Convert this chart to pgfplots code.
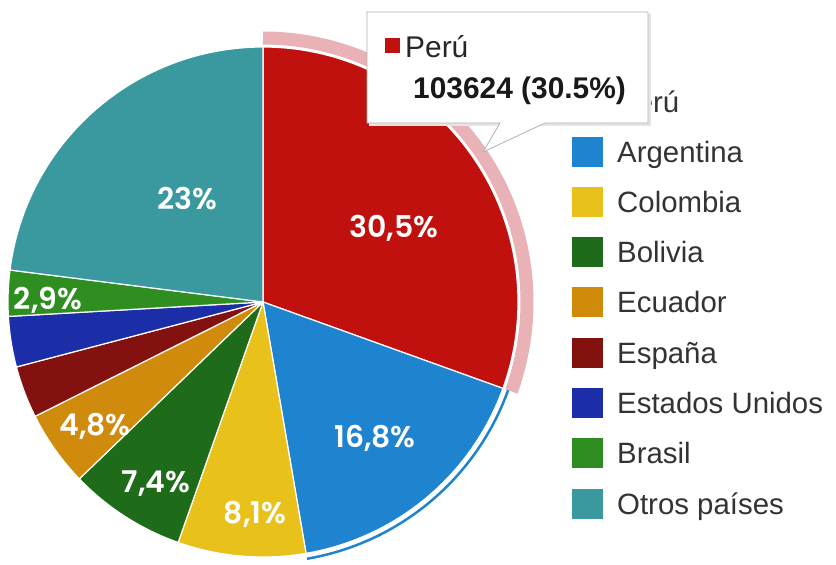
\documentclass[border=0pt]{standalone}
\usepackage{pgfplots}
\pgfplotsset{compat=1.18}
\usepackage{pgfplotstable}
\usepackage{fontspec}
\setmainfont{Liberation Sans}
\newfontfamily\lblfont{Poppins SemiBold}
\definecolor{cPeru}{HTML}{C1110F}
\definecolor{cArg}{HTML}{1E84CF}
\definecolor{cCol}{HTML}{E9C11B}
\definecolor{cBol}{HTML}{1E6C1A}
\definecolor{cEcu}{HTML}{D08A0C}
\definecolor{cEsp}{HTML}{821110}
\definecolor{cUSA}{HTML}{1B2EA8}
\definecolor{cBra}{HTML}{2F8E20}
\definecolor{cOtr}{HTML}{3A999F}
\definecolor{cPink}{HTML}{E8B2B6}
\definecolor{legtext}{HTML}{333333}

\pgfplotstableread{
name       value  col
Peru       30.5   cPeru
Argentina  16.8   cArg
Colombia   8.1    cCol
Bolivia    7.4    cBol
Ecuador    4.8    cEcu
Espana     3.3    cEsp
EEUU       3.2    cUSA
Brasil     2.9    cBra
Otros      23.0   cOtr
}\piedata

\begin{document}
\begin{tikzpicture}
\begin{axis}[width=836bp,height=565bp,scale only axis,
  xmin=0,xmax=836,ymin=0,ymax=565,y dir=reverse,
  hide axis,clip=false]
\fill[white] (axis cs:0,0) rectangle (axis cs:836,565);
\pgfplotstablegetrowsof{\piedata}
\pgfmathtruncatemacro\N{\pgfplotsretval-1}
\def\cum{0}
\pgfplotsforeachungrouped \i in {0,...,\N}{%
  \pgfplotstablegetelem{\i}{value}\of\piedata \let\v\pgfplotsretval
  \pgfplotstablegetelem{\i}{col}\of\piedata \let\scol\pgfplotsretval
  \pgfmathsetmacro\a{90-3.6*\cum}%
  \pgfmathsetmacro\b{90-3.6*(\cum+\v)}%
  \ifnum\i=0
    \edef\temp{\noexpand\draw[cPink,line width=13bp] (axis cs:263,302) ++(\a:264bp) arc[start angle=\a,end angle=\b,radius=264bp];}\temp
  \fi
  \ifnum\i=1
    \edef\temp{\noexpand\draw[cArg,line width=2.5bp] (axis cs:263,302) ++(\a:260.5bp) arc[start angle=\a,end angle=\b,radius=260.5bp];}\temp
  \fi
  \edef\temp{\noexpand\filldraw[fill=\scol,draw=white,line width=1.2bp,line join=round] (axis cs:263,302) -- ++(\a:255bp) arc[start angle=\a,end angle=\b,radius=255bp] -- cycle;}\temp
  \pgfmathsetmacro\cum{\cum+\v}%
}
% slice labels
\tikzset{lbl/.style={anchor=base,text=white,inner sep=0pt,font=\lblfont\fontsize{30}{32}\selectfont}}
\node[lbl] at (axis cs:394,237) {30,5\%};
\node[lbl] at (axis cs:187,209) {23\%};
\node[lbl] at (axis cs:375,447) {16,8\%};
\node[lbl] at (axis cs:255,523) {8,1\%};
\node[lbl] at (axis cs:156,492) {7,4\%};
\node[lbl] at (axis cs:95,435) {4,8\%};
\node[lbl] at (axis cs:48,309) {2,9\%};
% legend
\tikzset{leg/.style={anchor=base west,text=legtext,inner sep=0pt,font=\fontsize{29.5}{31}\selectfont}}
\fill[cPeru] (axis cs:572,87) rectangle (axis cs:603,117);
\node[leg] at (axis cs:617,112.5) {Perú};
\fill[cArg] (axis cs:572,137) rectangle (axis cs:603,167);
\node[leg] at (axis cs:617,162.5) {Argentina};
\fill[cCol] (axis cs:572,187) rectangle (axis cs:603,217);
\node[leg] at (axis cs:617,212.5) {Colombia};
\fill[cBol] (axis cs:572,237) rectangle (axis cs:603,267);
\node[leg] at (axis cs:617,262.5) {Bolivia};
\fill[cEcu] (axis cs:572,287) rectangle (axis cs:603,317);
\node[leg] at (axis cs:617,312.5) {Ecuador};
\fill[cEsp] (axis cs:572,338) rectangle (axis cs:603,368);
\node[leg] at (axis cs:617,363.5) {España};
\fill[cUSA] (axis cs:572,388) rectangle (axis cs:603,418);
\node[leg] at (axis cs:617,413.5) {Estados Unidos};
\fill[cBra] (axis cs:572,438) rectangle (axis cs:603,468);
\node[leg] at (axis cs:617,463.5) {Brasil};
\fill[cOtr] (axis cs:572,489) rectangle (axis cs:603,519);
\node[leg] at (axis cs:617,514.5) {Otros países};
% tooltip
\fill[black!10] (axis cs:369,14) rectangle (axis cs:651,126);
\filldraw[fill=white,draw=black!30,line width=0.8bp,line join=miter]
  (axis cs:367,12) -- (axis cs:648,12) -- (axis cs:648,123) -- (axis cs:545,123)
  -- (axis cs:483,152) -- (axis cs:500,123) -- (axis cs:367,123) -- cycle;
\fill[cPeru] (axis cs:385,38) rectangle (axis cs:400,53);
\node[anchor=base west,inner sep=0pt,text=black!85,font=\fontsize{30}{32}\selectfont] at (axis cs:405,58) {Perú};
\node[anchor=base west,inner sep=0pt,text=black!90,font=\bfseries\fontsize{30}{32}\selectfont] at (axis cs:413,98) {103624 (30.5\%)};
\end{axis}
\end{tikzpicture}
\end{document}
